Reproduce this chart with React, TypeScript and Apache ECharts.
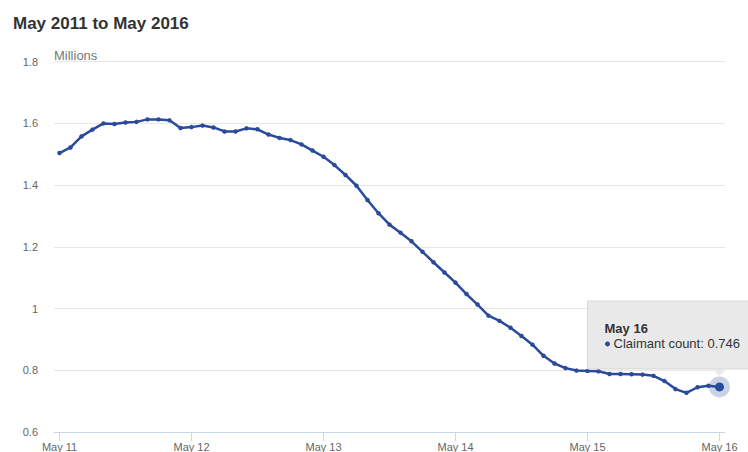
import React, { useEffect, useRef } from 'react';
import * as echarts from 'echarts';

const MONTHS = ['Jan', 'Feb', 'Mar', 'Apr', 'May', 'Jun', 'Jul', 'Aug', 'Sep', 'Oct', 'Nov', 'Dec'];
const YEARS = ['11', '12', '13', '14', '15', '16'];

// Monthly categories, May 2011 to May 2016
const categories: string[] = [];
for (let y = 0; y < YEARS.length; y++) {
  for (let m = 0; m < 12; m++) {
    if (y === 0 && m < 4) continue;
    if (y === YEARS.length - 1 && m > 4) continue;
    categories.push(`${MONTHS[m]} ${YEARS[y]}`);
  }
}

const claimantCount = [
  1.504, 1.522, 1.558, 1.58, 1.6, 1.598, 1.603, 1.605, 1.613, 1.613, 1.61, 1.585,
  1.588, 1.593, 1.587, 1.574, 1.574, 1.584, 1.581, 1.564, 1.553, 1.546, 1.532, 1.512,
  1.492, 1.465, 1.433, 1.398, 1.352, 1.309, 1.272, 1.246, 1.218, 1.184, 1.15, 1.117,
  1.084, 1.047, 1.013, 0.977, 0.96, 0.938, 0.911, 0.883, 0.847, 0.822, 0.807, 0.799,
  0.798, 0.797, 0.788, 0.788, 0.787, 0.786, 0.782, 0.765, 0.739, 0.727, 0.745, 0.75,
  0.746,
];

const TITLE = 'May 2011 to May 2016';
const UNIT = 'Millions';
const SERIES_NAME = 'Claimant count';
const Y_MIN = 0.6;
const Y_MAX = 1.8;
const Y_STEP = 0.2;

const LINE_COLOR = '#2a4a9c';
const FONT = '"Liberation Sans", Arial, sans-serif';

export default function App() {
  const ref = useRef<HTMLDivElement>(null);

  useEffect(() => {
    if (!ref.current) return;
    const chart = echarts.init(ref.current, undefined, { renderer: 'svg' });
    const lastIdx = claimantCount.length - 1;
    const lastCat = categories[lastIdx];
    const lastVal = claimantCount[lastIdx];

    chart.setOption({
      animation: false,
      textStyle: { fontFamily: FONT },
      title: {
        text: TITLE,
        left: 8,
        top: 10,
        textStyle: { fontFamily: FONT, fontSize: 17, fontWeight: 'bold', color: '#333333' },
      },
      grid: { left: 54, right: 23, top: 61.7, bottom: 20, containLabel: false },
      xAxis: {
        type: 'category',
        data: categories,
        boundaryGap: true,
        axisLine: { show: true, lineStyle: { color: '#ccd6eb', width: 1 } },
        axisTick: { show: true, alignWithLabel: true, interval: 11, length: 9, lineStyle: { color: '#ccd6eb' } },
        axisLabel: {
          interval: 11,
          margin: 9,
          color: '#666666',
          fontSize: 11,
          fontFamily: FONT,
        },
        splitLine: { show: false },
      },
      yAxis: {
        type: 'value',
        min: Y_MIN,
        max: Y_MAX,
        interval: Y_STEP,
        name: UNIT,
        nameLocation: 'end',
        nameGap: 0,
        nameTextStyle: { align: 'left', verticalAlign: 'bottom', color: '#777777', fontSize: 13, fontFamily: FONT, padding: [0, 0, 0, 0] },
        axisLine: { show: false },
        axisTick: { show: false },
        axisLabel: {
          margin: 16,
          color: '#666666',
          fontSize: 11,
          fontFamily: FONT,
          formatter: (v: number) => String(+v.toFixed(1)),
        },
        splitLine: { show: true, lineStyle: { color: '#e6e6e6', width: 1 } },
      },
      series: [
        {
          name: SERIES_NAME,
          type: 'line',
          data: claimantCount,
          smooth: false,
          symbol: 'circle',
          symbolSize: 4.5,
          lineStyle: { color: LINE_COLOR, width: 2.5 },
          itemStyle: { color: LINE_COLOR },
          z: 3,
          markPoint: {
            symbol: 'circle',
            silent: true,
            label: { show: false },
            data: [
              { coord: [lastCat, lastVal], symbolSize: 21, itemStyle: { color: 'rgba(42,74,156,0.25)' } },
              { coord: [lastCat, lastVal], symbolSize: 9, itemStyle: { color: LINE_COLOR } },
            ],
          },
        },
      ],
    });

    const [px, py] = chart.convertToPixel({ gridIndex: 0 }, [lastCat, lastVal]) as number[];
    const boxLeft = px - 132;
    const boxTop = py - 86;
    const boxW = 162;
    const boxH = 68;
    chart.setOption({
      graphic: [
        {
          type: 'rect',
          shape: { x: boxLeft, y: boxTop, width: boxW, height: boxH },
          style: { fill: 'rgba(232,232,232,0.95)', stroke: '#d8d8d8', lineWidth: 1 },
          z: 100,
        },
        {
          type: 'polygon',
          shape: { points: [[px - 7, boxTop + boxH], [px + 7, boxTop + boxH], [px, boxTop + boxH + 7]] },
          style: { fill: 'rgba(232,232,232,0.95)' },
          z: 100,
        },
        {
          type: 'text',
          x: boxLeft + 17,
          y: py - 58,
          style: { text: lastCat, font: `bold 13px ${FONT}`, fill: '#333333', verticalAlign: 'middle' },
          z: 101,
        },
        {
          type: 'circle',
          shape: { cx: boxLeft + 20, cy: py - 43, r: 2.5 },
          style: { fill: LINE_COLOR },
          z: 101,
        },
        {
          type: 'text',
          x: boxLeft + 26,
          y: py - 43,
          style: { text: `${SERIES_NAME}: ${lastVal}`, font: `13px ${FONT}`, fill: '#333333', verticalAlign: 'middle' },
          z: 101,
        },
      ],
    });

    return () => chart.dispose();
  }, []);

  return (
    <div
      ref={ref}
      style={{ position: 'absolute', left: 0, top: 0, width: 748, height: 452, background: '#ffffff' }}
    />
  );
}
